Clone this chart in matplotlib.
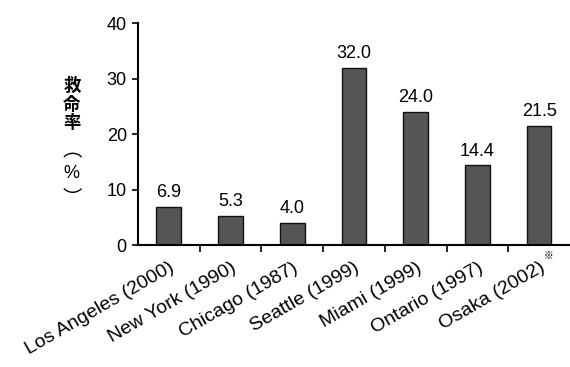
import numpy as np
import matplotlib.pyplot as plt

cities = ['Los Angeles (2000)', 'New York (1990)', 'Chicago (1987)', 'Seattle (1999)',
          'Miami (1999)', 'Ontario (1997)', 'Osaka (2002)']
rates = [6.9, 5.3, 4.0, 32.0, 24.0, 14.4, 21.5]

plt.rcParams['font.family'] = ['Liberation Sans', 'Noto Sans CJK JP', 'DejaVu Sans']

fig = plt.figure(figsize=(5.7, 3.67), dpi=100)
ax = fig.add_axes([0.242, 0.332, 0.758, 0.605])

x = np.arange(len(cities))
bars = ax.bar(x, rates, width=0.4, color='#555555', edgecolor='#111111', linewidth=1.0)
ax.bar_label(bars, labels=['%.1f' % v for v in rates], padding=4, fontsize=13)

ax.set_xlim(-0.5, 6.5)
ax.set_ylim(0, 40)
ax.set_yticks([0, 10, 20, 30, 40])
ax.tick_params(axis='y', labelsize=13, length=4, width=1.2, pad=4)

ax.set_xticks(x)
ax.set_xticklabels(cities, rotation=30, ha='right', rotation_mode='anchor', fontsize=14)
ax.tick_params(axis='x', which='major', length=0, pad=10)
ax.set_xticks(x[:-1] + 0.5, minor=True)
ax.tick_params(axis='x', which='minor', length=5, width=1.2, direction='out')

for s in ['top', 'right']:
    ax.spines[s].set_visible(False)
ax.spines['left'].set_linewidth(1.5)
ax.spines['bottom'].set_linewidth(1.5)

ax.text(6.07, -1.0, '※', fontsize=7, family=['Noto Sans CJK JP'], ha='left', va='top')

cjk = ['Noto Sans CJK JP', 'DejaVu Sans']
fig.text(0.126, 0.715, '救\n命\n率', family=cjk, fontsize=12.5, ha='center', va='center',
         linespacing=1.05, fontweight='bold')
fig.text(0.126, 0.588, '︵', family=cjk, fontsize=14, ha='center', va='center')
fig.text(0.126, 0.528, '%', fontsize=13, ha='center', va='center')
fig.text(0.126, 0.46, '︶', family=cjk, fontsize=14, ha='center', va='center')

fig.savefig('out.png', dpi=100)
